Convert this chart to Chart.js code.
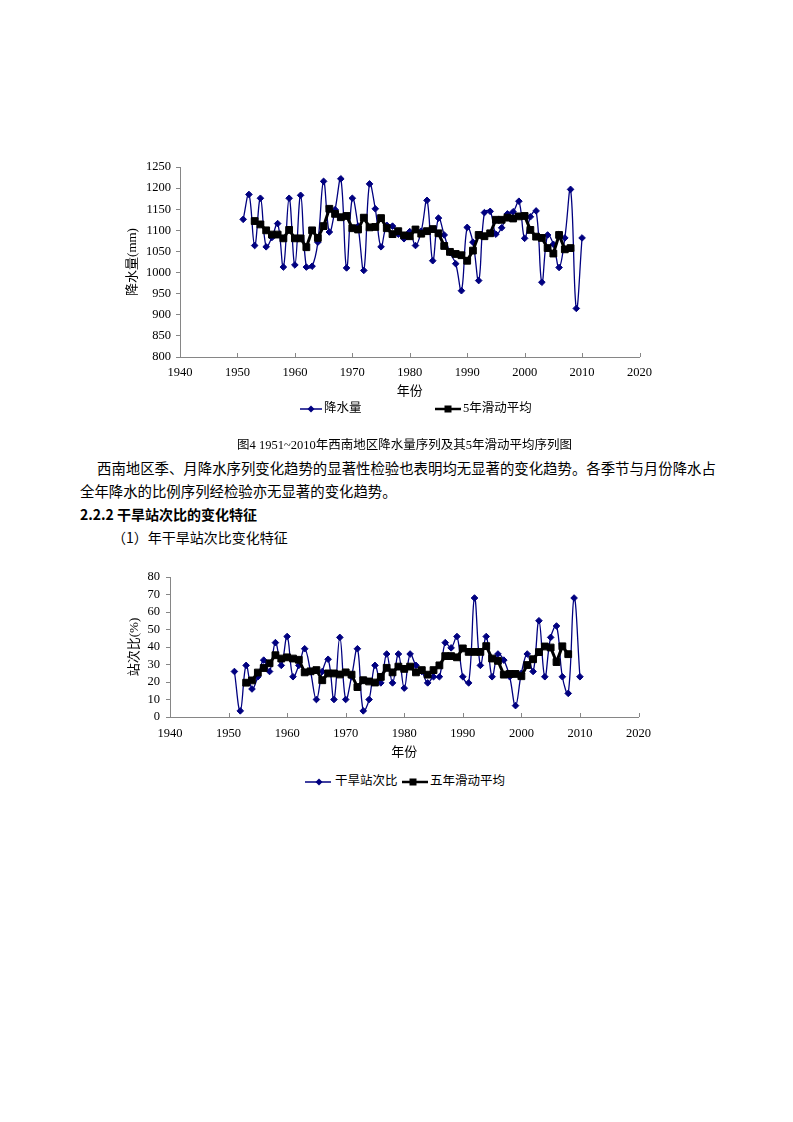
<!DOCTYPE html>
<html>
<head>
<meta charset="utf-8">
<script src="https://cdn.jsdelivr.net/npm/chart.js@4.4.1/dist/chart.umd.min.js"></script>
<style>
body { margin: 0; background: #fff; width: 793px; height: 1122px; position: relative; overflow: hidden;
       font-family: "Liberation Serif", "Noto Sans CJK SC", serif; color: #000; }
.abs { position: absolute; white-space: nowrap; line-height: 1; }
.body { font-family: "Noto Sans CJK SC", sans-serif; font-size: 14.4px; }
.leg { font-size: 12.5px; }
</style>
</head>
<body>

<div class="abs" style="left:100px;top:150px;width:560px;height:255px"><canvas id="c1" width="560" height="255"></canvas></div>
<div class="abs" style="left:100px;top:560px;width:560px;height:210px"><canvas id="c2" width="560" height="210"></canvas></div>

<!-- legend 1 -->
<svg class="abs" style="left:296px;top:401px" width="30" height="16"><line x1="4" y1="8" x2="26" y2="8" stroke="#000080" stroke-width="1.5"/><path d="M15 4.5 L18.5 8 L15 11.5 L11.5 8 Z" fill="#000080"/></svg>
<div class="abs leg" style="left:324px;top:402px">降水量</div>
<svg class="abs" style="left:432px;top:401px" width="32" height="16"><line x1="3" y1="8" x2="29" y2="8" stroke="#000" stroke-width="2.5"/><rect x="12.5" y="4.5" width="7" height="7" fill="#000"/></svg>
<div class="abs leg" style="left:463px;top:402px">5年滑动平均</div>

<div class="abs" style="left:237px;top:439px;font-size:12.5px">图4 1951~2010年西南地区降水量序列及其5年滑动平均序列图</div>
<div class="abs body" style="left:97px;top:461px">西南地区季、月降水序列变化趋势的显著性检验也表明均无显著的变化趋势。各季节与月份降水占</div>
<div class="abs body" style="left:80px;top:484px">全年降水的比例序列经检验亦无显著的变化趋势。</div>
<div class="abs body" style="left:80px;top:507px;font-weight:bold;font-size:14px">2.2.2 干旱站次比的变化特征</div>
<div class="abs body" style="left:112px;top:530px;font-size:14px">（1）年干旱站次比变化特征</div>

<!-- legend 2 -->
<svg class="abs" style="left:302px;top:774px" width="32" height="16"><line x1="3" y1="8" x2="29" y2="8" stroke="#000080" stroke-width="1.5"/><path d="M17 4.5 L20.5 8 L17 11.5 L13.5 8 Z" fill="#000080"/></svg>
<div class="abs leg" style="left:335px;top:775px">干旱站次比</div>
<svg class="abs" style="left:400px;top:774px" width="30" height="16"><line x1="2" y1="8" x2="28" y2="8" stroke="#000" stroke-width="2.5"/><rect x="9.5" y="4.5" width="7" height="7" fill="#000"/></svg>
<div class="abs leg" style="left:430px;top:775px">五年滑动平均</div>

<script>
const years = [1951, 1952, 1953, 1954, 1955, 1956, 1957, 1958, 1959, 1960,
  1961, 1962, 1963, 1964, 1965, 1966, 1967, 1968, 1969, 1970,
  1971, 1972, 1973, 1974, 1975, 1976, 1977, 1978, 1979, 1980,
  1981, 1982, 1983, 1984, 1985, 1986, 1987, 1988, 1989, 1990,
  1991, 1992, 1993, 1994, 1995, 1996, 1997, 1998, 1999, 2000,
  2001, 2002, 2003, 2004, 2005, 2006, 2007, 2008, 2009, 2010];
const maYears = years.slice(2, 58); // 1953-2008

// 降水量 (mm)
const rain = [1126, 1185, 1064, 1176, 1061, 1083, 1116, 1013, 1176, 1018,
  1183, 1013, 1015, 1072, 1216, 1096, 1149, 1222, 1011, 1176,
  1110, 1005, 1210, 1151, 1061, 1112, 1110, 1091, 1080, 1097,
  1064, 1098, 1171, 1028, 1129, 1089, 1047, 1021, 957, 1107,
  1072, 981, 1142, 1145, 1091, 1106, 1139, 1144, 1169, 1081,
  1132, 1146, 977, 1089, 1067, 1012, 1082, 1197, 915, 1082];
const rainMA = [1122, 1114, 1100, 1090, 1090, 1081, 1101, 1081,
  1081, 1060, 1100, 1082, 1110, 1151, 1139, 1131, 1134, 1105,
  1102, 1130, 1107, 1108, 1129, 1105, 1091, 1098, 1088, 1086,
  1102, 1092, 1098, 1103, 1093, 1063, 1049, 1044, 1041, 1028,
  1052, 1089, 1086, 1093, 1125, 1125, 1130, 1128, 1133, 1134,
  1101, 1085, 1082, 1058, 1045, 1089, 1055, 1058];

// 干旱站次比 (%)
const dry = [26, 3.5, 29.5, 16, 23, 32.5, 26, 42.5, 29.5, 46,
  23, 29.5, 39, 26, 10, 26, 33, 10, 45.5, 10,
  23, 39, 3.5, 10, 29.5, 19.5, 36, 19.5, 36, 16.5,
  36, 29.5, 26, 19.5, 23, 23, 42.5, 39.5, 46, 23,
  19.5, 68, 29.5, 46, 23, 36, 32.5, 23, 6.5, 25,
  36, 26, 55, 23, 45.5, 52, 23, 13.5, 68, 23];
const dryMA = [19.6, 20.9, 25.4, 28, 30.7, 35.3, 33.4, 34.1,
  33.4, 32.7, 25.5, 26.1, 26.8, 21, 24.9, 24.9, 24.3, 25.5,
  24.2, 17.1, 21, 20.3, 19.7, 22.9, 28.1, 25.5, 28.8, 27.5,
  28.8, 25.5, 26.8, 24.2, 26.8, 29.5, 34.8, 34.8, 34.1, 39.2,
  37.2, 37.2, 37.2, 40.5, 33.4, 32.1, 24.2, 24.6, 24.6, 23.3,
  29.7, 33, 37.1, 40.3, 39.7, 31.4, 40.4, 35.9];

const xTicks = [1940, 1950, 1960, 1970, 1980, 1990, 2000, 2010, 2020];

const serif = '"Liberation Serif", "Noto Sans CJK SC", serif';
const axisGrey = '#868686';

// Excel style tick marks pointing into the plot on the x axis
const innerTicks = {
  id: 'innerTicks',
  afterDraw(chart) {
    const sx = chart.scales.x, ctx = chart.ctx;
    ctx.save();
    ctx.strokeStyle = axisGrey;
    ctx.lineWidth = 1;
    sx.ticks.forEach(t => {
      const px = Math.round(sx.getPixelForValue(t.value)) + 0.5;
      ctx.beginPath();
      ctx.moveTo(px, sx.top);
      ctx.lineTo(px, sx.top - 4);
      ctx.stroke();
    });
    ctx.restore();
  }
};

function pts(xs, ys) {
  return xs.map((x, i) => ({ x: x, y: ys[i] }));
}

function makeChart(id, raw, avg, cfg) {
  const ctx = document.getElementById(id).getContext('2d');
  return new Chart(ctx, {
    type: 'line',
    data: {
      datasets: [{
        label: cfg.rawLabel,
        data: pts(years, raw),
        borderColor: '#000080',
        backgroundColor: '#000080',
        borderWidth: 1.3,
        tension: 0.4,
        pointStyle: 'rectRot',
        pointRadius: 3.3,
        pointBorderWidth: 1,
        order: 2
      }, {
        label: cfg.avgLabel,
        data: pts(maYears, avg),
        borderColor: '#000',
        backgroundColor: '#000',
        borderWidth: 3,
        tension: 0,
        pointStyle: 'rect',
        pointRadius: 4.8,
        pointBorderWidth: 1,
        order: 1
      }]
    },
    options: {
      responsive: false,
      animation: false,
      layout: { padding: { top: 17, right: 19, left: 0, bottom: 0 } },
      plugins: { legend: { display: false }, tooltip: { enabled: false } },
      scales: {
        x: {
          type: 'linear',
          min: 1940, max: 2020,
          afterBuildTicks: s => { s.ticks = xTicks.map(v => ({ value: v })); },
          afterFit: s => { s.height = cfg.xHeight; },
          grid: { display: false, drawTicks: false },
          border: { color: axisGrey, width: 1 },
          ticks: { padding: cfg.xPad, color: '#000', font: { family: serif, size: 12.5 }, callback: v => String(v), maxRotation: 0, autoSkip: false },
          title: { display: true, text: '年份', color: '#000', font: { family: serif, size: 13 }, padding: { top: 0, bottom: cfg.xTitlePad } }
        },
        y: {
          min: cfg.min, max: cfg.max,
          afterFit: s => { s.width = cfg.yWidth; },
          grid: { drawOnChartArea: false, tickLength: 4, color: axisGrey },
          border: { color: axisGrey, width: 1 },
          ticks: { stepSize: cfg.step, padding: cfg.yPad, autoSkip: false, color: '#000', font: { family: serif, size: 12.5 }, callback: v => String(v) },
          title: { display: true, text: cfg.yTitle, color: '#000', font: { family: serif, size: 13 }, padding: { top: cfg.yTitlePad, bottom: 0 } }
        }
      }
    },
    plugins: [innerTicks]
  });
}

makeChart('c1', rain, rainMA, {
  rawLabel: '降水量', avgLabel: '5年滑动平均',
  min: 800, max: 1250, step: 50, yTitle: '降水量(mm)',
  yWidth: 80, xHeight: 48, xPad: 8, yPad: 5, yTitlePad: 25, xTitlePad: 6
});

makeChart('c2', dry, dryMA, {
  rawLabel: '干旱站次比', avgLabel: '五年滑动平均',
  min: 0, max: 80, step: 10, yTitle: '站次比(%)',
  yWidth: 70, xHeight: 53, xPad: 9, yPad: 6, yTitlePad: 27, xTitlePad: 10
});
</script>
</body>
</html>
